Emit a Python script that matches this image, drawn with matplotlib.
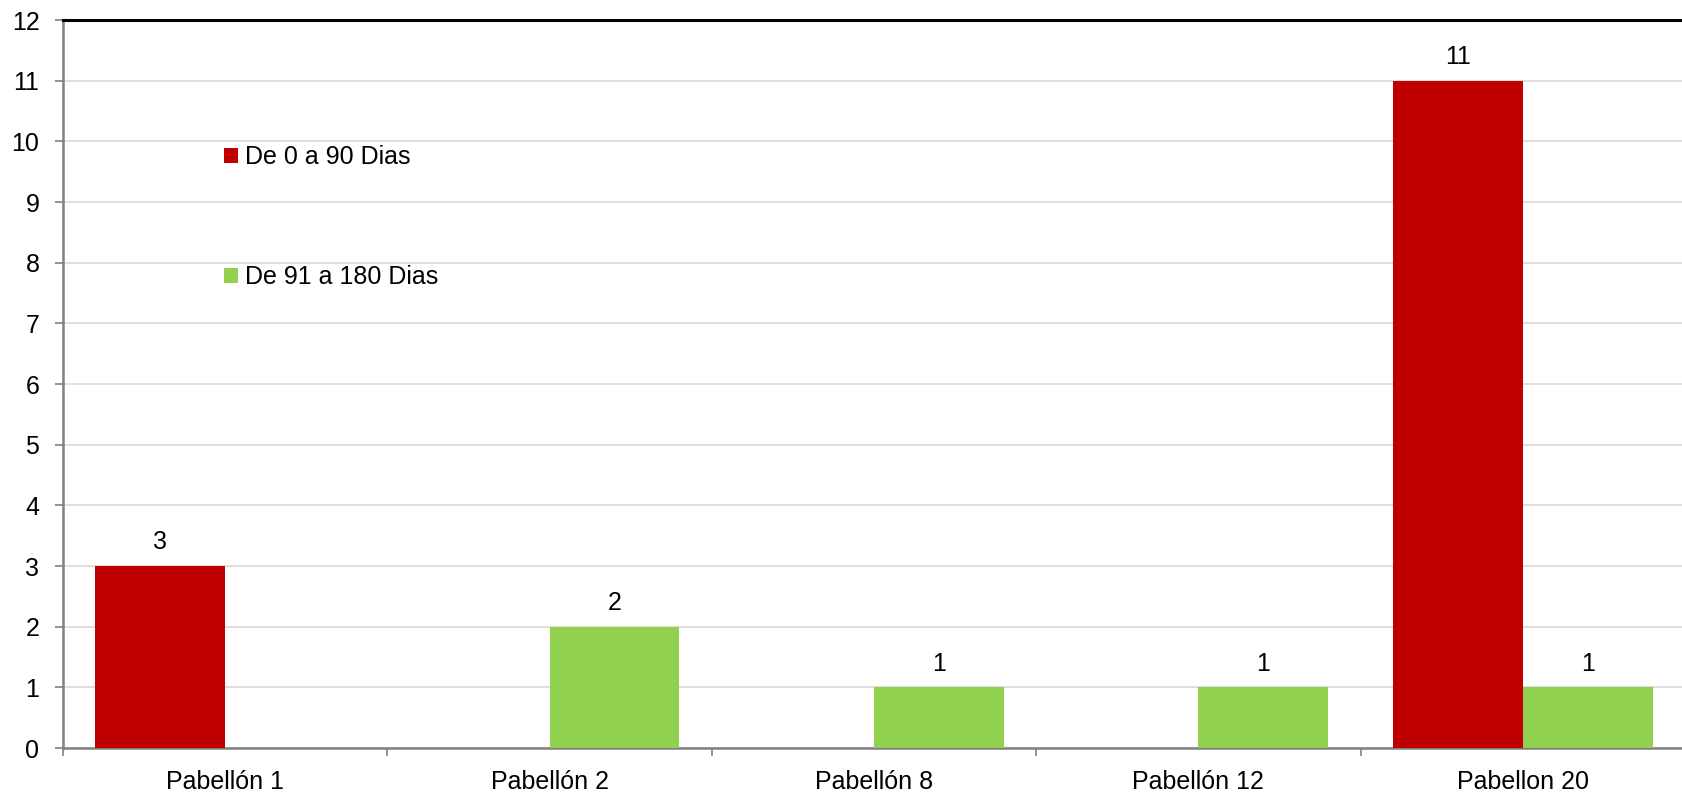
import matplotlib
matplotlib.use("Agg")
import matplotlib.pyplot as plt
from matplotlib.patches import Patch
import numpy as np

plt.rcParams['font.family'] = ['Liberation Sans', 'DejaVu Sans']

categories = ["Pabellón 1", "Pabellón 2", "Pabellón 8", "Pabellón 12", "Pabellon 20"]
series_names = ["De 0 a 90 Dias", "De 91 a 180 Dias"]
values_0_90 = [3, 0, 0, 0, 11]
values_91_180 = [0, 2, 1, 1, 1]
colors = ["#C00000", "#92D050"]

FS = 18

fig = plt.figure(figsize=(16.82, 7.95), dpi=100)
ax = fig.add_axes([63/1682, 47/795, 1622/1682, 728/795])

x = np.arange(len(categories))
w = 0.4
for i, (vals, col) in enumerate(zip([values_0_90, values_91_180], colors)):
    pos = x + (i - 0.5) * w
    ax.bar(pos, vals, width=w, color=col, zorder=3, align='center')
    for p, v in zip(pos, vals):
        if v > 0:
            ax.annotate(str(v), (p, v), xytext=(0, 8.5), textcoords='offset points',
                        ha='center', va='bottom', fontsize=FS, color='#000000')

ax.set_xlim(-0.5, len(categories) - 0.5)
ax.set_ylim(0, 12)
ax.set_yticks(range(0, 13))
ax.yaxis.grid(True, color='#D9D9D9', linewidth=1.2, zorder=0)
ax.set_axisbelow(True)

ax.set_xticks(x)
ax.set_xticklabels(categories, fontsize=FS)
ax.set_xticks(np.arange(-0.5, len(categories)), minor=True)
ax.tick_params(axis='x', which='major', length=0, pad=15.5)
ax.tick_params(axis='x', which='minor', length=6, color='#808080', width=1.2)
ax.tick_params(axis='y', length=6, color='#808080', width=1.2, labelsize=FS, pad=11)

for s in ['left', 'bottom']:
    ax.spines[s].set_color('#808080')
    ax.spines[s].set_linewidth(1.8)
ax.spines['top'].set_color('#000000')
ax.spines['top'].set_linewidth(2.2)
ax.spines['right'].set_visible(False)

handles = [Patch(facecolor=c, edgecolor='none') for c in colors]
ax.legend(handles, series_names, loc='upper left', bbox_to_anchor=(161/1622, 1 - 125/728),
          frameon=False, fontsize=FS, labelspacing=3.85, handlelength=0.55,
          handleheight=0.55, handletextpad=0.3, borderpad=0, borderaxespad=0)

fig.savefig("out.png", dpi=100, facecolor='white')
